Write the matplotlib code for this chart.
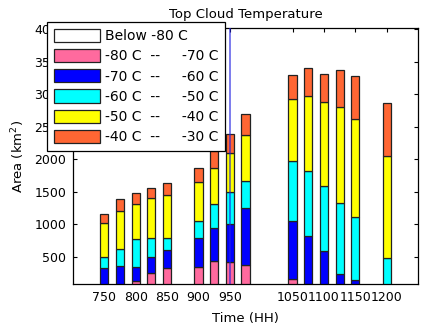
import numpy as np
import matplotlib
matplotlib.use('Agg')
import matplotlib.pyplot as plt

#==================================== Data (area per cloud-top temperature class, km^2) ====================
times = [750, 775, 800, 825, 850, 900, 925, 950, 975, 1050, 1075, 1100, 1125, 1150, 1200]
below_80 = [0, 0, 0, 0, 0, 0, 0, 0, 0, 0, 0, 0, 0, 0, 0]
m80_m70 = [0, 0, 135, 249, 335, 351, 443, 423, 372, 157, 90, 0, 0, 0, 0]
m70_m60 = [331, 362, 207, 256, 268, 437, 508, 585, 877, 892, 738, 592, 243, 146, 0]
m60_m50 = [169, 266, 430, 292, 194, 264, 364, 497, 425, 928, 990, 1005, 1088, 964, 480]
m50_m40 = [528, 584, 543, 611, 652, 602, 550, 590, 703, 954, 1154, 1293, 1481, 1518, 1578]
m40_m30 = [129, 180, 165, 149, 189, 208, 266, 297, 318, 369, 431, 430, 570, 652, 816]

labels = ['Below -80 C', '-80 C  --     -70 C', '-70 C  --     -60 C',
          '-60 C  --     -50 C', '-50 C  --     -40 C', '-40 C  --     -30 C']
colors = ['#FFFFFF', '#FF6A9E', '#0000FF', '#00FFFF', '#FFFF00', '#FF6633']
xtick_vals = [750, 800, 850, 900, 950, 1050, 1100, 1150, 1200]
marker_time = 950
#============================================================================================================

plt.rcParams['font.family'] = 'DejaVu Sans'
plt.rcParams['font.size'] = 9

fig = plt.figure(figsize=(4.21, 3.32), dpi=100)
ax = fig.add_axes([73/421, 1-284/332, (418-73)/421, (284-28)/332])

layers = [below_80, m80_m70, m70_m60, m60_m50, m50_m40, m40_m30]
bottom = np.zeros(len(times))
for vals, c, lab in zip(layers, colors, labels):
    vals = np.array(vals, dtype=float)
    ax.bar(times, vals, width=13, bottom=bottom, color=c, edgecolor='#222222',
           linewidth=0.9, label=lab, zorder=2)
    bottom += vals

# garis penanda waktu
ax.axvline(marker_time, color='#2020E0', lw=1.1, alpha=0.75, zorder=3)

ax.set_xlim(700, 1250)
ax.set_ylim(85, 4020)
ax.set_xticks(xtick_vals)
ax.set_yticks(np.arange(500, 4001, 500))
ax.tick_params(direction='in', top=True, right=True, length=3, width=0.8,
               labelsize=9, pad=5)
for s in ax.spines.values():
    s.set_linewidth(0.9)

ax.set_title('Top Cloud Temperature', fontsize=9.5, pad=7)
ax.set_xlabel('Time (HH)', fontsize=9.5, labelpad=6)
ax.set_ylabel('Area (km$^2$)', fontsize=9.5, labelpad=5)

leg = ax.legend(loc='upper left', bbox_to_anchor=(47/421, 1-22/332),
                bbox_transform=fig.transFigure, borderaxespad=0, fancybox=False,
                edgecolor='black', framealpha=1, fontsize=10,
                handlelength=3.3, handleheight=1.08, labelspacing=0.42,
                handletextpad=0.35, borderpad=0.5)
leg.get_frame().set_linewidth(0.9)
leg.set_zorder(10)

fig.savefig('out.png', dpi=100)
